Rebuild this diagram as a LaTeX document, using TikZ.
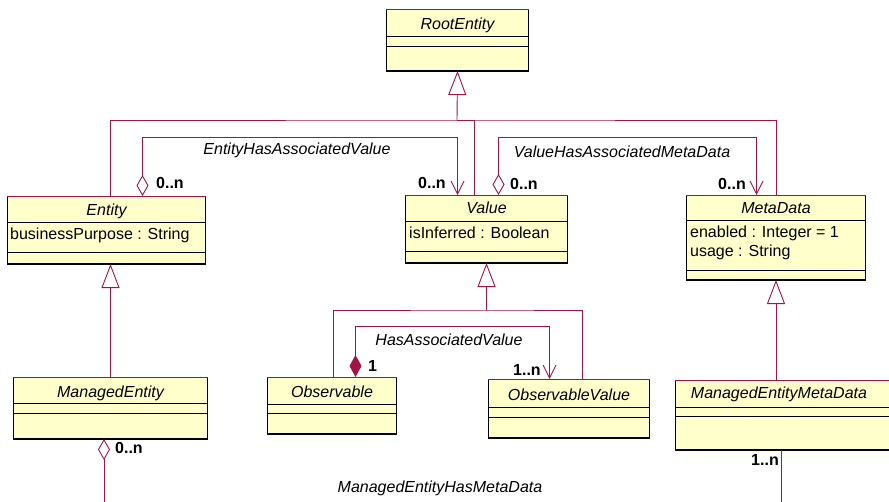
\documentclass[tikz,border=0pt]{standalone}
\usepackage{fontspec}
\setmainfont{Liberation Sans}
\usetikzlibrary{arrows.meta,positioning}
\definecolor{umlred}{RGB}{160,20,70}
\definecolor{umlfill}{RGB}{255,255,204}
\tikzset{
    cls/.style ={
        draw=black,
        line width=1pt,
        fill=umlfill,
        anchor=north west,
        inner sep=0pt
    },
    clsname/.style ={
        font=\itshape,
        anchor=base,
        inner sep=0pt
    },
    attr/.style ={
        anchor=base west,
        inner sep=0pt
    },
    sep/.style ={
        draw=black,
        line width=0.8pt
    },
    topedge/.style ={
        draw=umlred,
        line width=0.8pt
    },
    shadowedge/.style ={
        draw=black,
        line width=1.8pt
    },
    conn/.style ={
        draw=umlred,
        line width=0.9pt
    },
    gen/.style ={
        conn,
        {Triangle[length=24pt,width=18pt,fill=white]}-
    },
    agg/.style ={
        conn,
        {Diamond[length=21pt,width=12pt,fill=white]}-{Straight Barb[length=13pt,width=13pt]}
    },
    aggend/.style ={
        conn,
        {Diamond[length=21pt,width=12pt,fill=white]}-
    },
    comp/.style ={
        conn,
        {Diamond[length=22pt,width=12pt]}-{Straight Barb[length=13pt,width=13pt]}
    },
    mult/.style ={
        font=\bfseries,
        anchor=base west,
        inner sep=0pt
    },
    assoc/.style ={
        font=\itshape,
        anchor=base,
        inner sep=0pt
    }
}

\begin{document}
\fontsize{16}{19}\selectfont
\begin{tikzpicture}[x=1pt,y=-1pt]
    \path[fill=white,use as bounding box] (0,0) rectangle (889,501);
    % classes
    \node[cls,minimum width=142,minimum height=61] (root) at (386,9) {};
    \node[cls,minimum width=198,minimum height=67] (entity) at (7,196) {};
    \node[cls,minimum width=162,minimum height=67] (value) at (405,195) {};
    \node[cls,minimum width=179,minimum height=84] (metadata) at (686,195) {};
    \node[cls,minimum width=194,minimum height=61] (managed) at (13,377) {};
    \node[cls,minimum width=129,minimum height=56] (obs) at (267,377) {};
    \node[cls,minimum width=161,minimum height=58] (obsv) at (488,379) {};
    \node[cls,minimum width=220,minimum height=69] (memd) at (675,380) {};
    \foreach \c/\a/\b in {root/27/37,entity/26/56,value/26/56,metadata/25/75,
                          managed/26/36,obs/27/36,obsv/28/38,memd/27/36}{
        \draw[sep] ([yshift=-\a]\c.north west) -- ([yshift=-\a]\c.north east);
        \draw[sep] ([yshift=-\b]\c.north west) -- ([yshift=-\b]\c.north east);
        \draw[topedge] (\c.north west) -- (\c.north east);
        \draw[shadowedge] (\c.south west) -- (\c.south east);
    }
    \node[clsname] (rootname) at ([yshift=-20]root.north) {RootEntity};
    \node[clsname] (entityname) at ([yshift=-19]entity.north) {Entity};
    \node[clsname] (valuename) at ([yshift=-18]value.north) {Value};
    \node[clsname] (metadataname) at ([yshift=-18]metadata.north) {MetaData};
    \node[clsname] (managedname) at ([yshift=-20]managed.north) {ManagedEntity};
    \node[clsname] (obsname) at ([yshift=-20]obs.north) {Observable};
    \node[clsname] (obsvname) at ([yshift=-21]obsv.north) {ObservableValue};
    \node[clsname] (memdname) at ([xshift=104,yshift=-18]memd.north west) {ManagedEntityMetaData};
    \node[attr] (purpose) at ([xshift=3,yshift=-43]entity.north west) {businessPurpose : String};
    \node[attr] (inferred) at ([xshift=4,yshift=-43]value.north west) {isInferred : Boolean};
    \node[attr] (enabled) at ([xshift=4,yshift=-42]metadata.north west) {enabled : Integer = 1};
    \node[attr] (usage) at ([xshift=4,yshift=-61]metadata.north west) {usage : String};
    % generalizations
    \coordinate (genbar) at (457,120);
    \draw[gen] (root.south) -- (genbar);
    \draw[conn] (entity.north -| managed.north) |- (genbar) -| (metadata.north);
    \draw[conn] ([xshift=-12]value.north) |- (genbar);
    \draw[gen] (entity.south -| managed.north) -- (managed.north);
    \draw[gen] (value.south) -- ++(0,47) coordinate (valbar);
    \draw[conn] ([xshift=1.5]obs.north) |- (valbar) -| ([xshift=13.5]obsv.north);
    \draw[gen] (metadata.south) -- (metadata.south |- memd.north);
    % associations
    \draw[agg] ([xshift=36]entity.north) -- ++(0,-59) -| ([xshift=-29]value.north);
    \draw[agg] ([xshift=12]value.north) -- ++(0,-58) -| ([xshift=-19.5]metadata.north);
    \draw[comp] ([xshift=23.5]obs.north) -- ++(0,-51) -| ([xshift=-19.5]obsv.north);
    \coordinate (medown) at (104,510);
    \coordinate (memddown) at (781,510);
    \draw[aggend] (medown |- managed.south) -- (medown);
    \draw[conn] (memddown |- memd.south) -- (memddown);
    % labels
    \node[assoc] (evlabel) at (297,154) {EntityHasAssociatedValue};
    \node[assoc] (vmlabel) at (622,157) {ValueHasAssociatedMetaData};
    \node[assoc] (hvlabel) at (449,345) {HasAssociatedValue};
    \node[assoc] (mmlabel) at (440,492) {ManagedEntityHasMetaData};
    \node[mult] (m1) at (156,188) {0..n};
    \node[mult] (m2) at (418,188) {0..n};
    \node[mult] (m3) at (510,189) {0..n};
    \node[mult] (m4) at (718,189) {0..n};
    \node[mult] (m5) at (368,371) {1};
    \node[mult] (m6) at (513,375) {1..n};
    \node[mult] (m7) at (115,453) {0..n};
    \node[mult] (m8) at (751,465) {1..n};
\end{tikzpicture}
\end{document}
